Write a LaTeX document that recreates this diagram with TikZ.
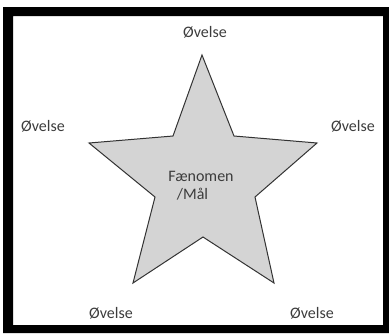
\documentclass[tikz,border=0pt]{standalone}
\usepackage{fontspec}
\setmainfont{Carlito}
\definecolor{stargray}{RGB}{212,212,212}
\definecolor{txtgray}{RGB}{60,60,60}
\tikzset{
  lbl/.style={font=\fontsize{16}{18}\selectfont, text=txtgray, inner sep=0pt},
  starshape/.style={fill=stargray, draw=black!80, line width=1pt, line join=miter}
}
\begin{document}
\begin{tikzpicture}[x=1pt,y=-1pt]
\useasboundingbox (0,0) rectangle (389,333);
% frame
\fill[black, even odd rule] (3,7) rectangle (389,333) (13,16) rectangle (383,325);
% star
\coordinate (p1) at (202,55);
\coordinate (q1) at (173,136);
\coordinate (p2) at (89,143);
\coordinate (q2) at (155,197);
\coordinate (p3) at (133,283);
\coordinate (q3) at (203,237);
\coordinate (p4) at (274,283);
\coordinate (q4) at (255,197);
\coordinate (p5) at (317,143);
\coordinate (q5) at (234,136);
\draw[starshape] (p1) -- (q1) -- (p2) -- (q2) -- (p3) -- (q3) -- (p4) -- (q4) -- (p5) -- (q5) -- cycle;
% labels
\node[lbl] (top) at (205,32) {Øvelse};
\node[lbl] (left) at (43,126) {Øvelse};
\node[lbl] (right) at (353,126) {Øvelse};
\node[lbl] (bl) at (111,313) {Øvelse};
\node[lbl] (br) at (312,313) {Øvelse};
\node[lbl, align=center] (center) at (201,186) {Fænomen\\/Mål\hspace*{17pt}};
\end{tikzpicture}
\end{document}
